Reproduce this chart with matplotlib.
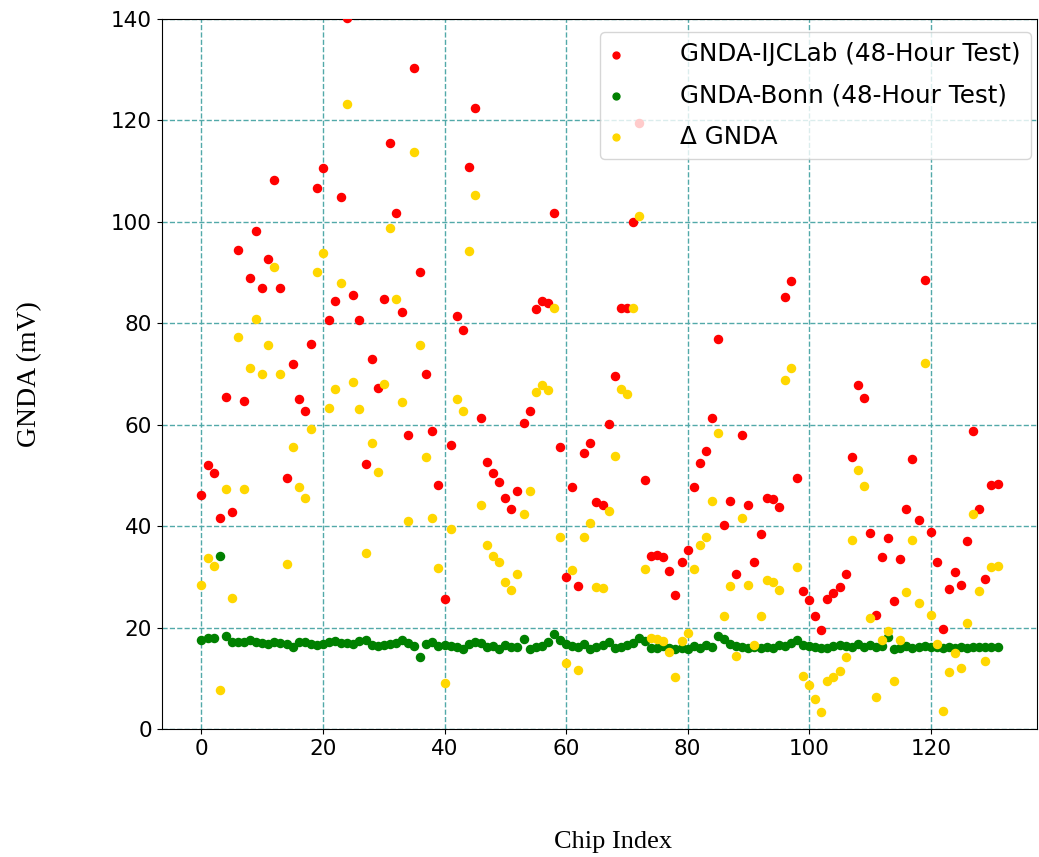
import matplotlib
matplotlib.use("Agg")
import matplotlib.pyplot as plt
import numpy as np

chip_index = list(range(132))

gnda_ijclab = [
    46.2, 52.0, 50.5, 41.7, 65.4, 42.9, 94.5, 64.6, 88.9, 98.1,
    87.0, 92.7, 108.2, 87.0, 49.5, 71.9, 65.1, 62.8, 76.0, 106.7,
    110.5, 80.6, 84.4, 104.9, 140.1, 85.5, 80.6, 52.2, 73.0, 67.3,
    84.7, 115.5, 101.8, 82.2, 57.9, 130.3, 90.0, 70.0, 58.7, 48.1,
    25.7, 56.0, 81.4, 78.7, 110.8, 122.3, 61.3, 52.7, 50.6, 48.8,
    45.5, 43.5, 47.0, 60.3, 62.8, 82.8, 84.4, 84.0, 101.8, 55.6,
    30.1, 47.8, 28.3, 54.5, 56.4, 44.8, 44.3, 60.2, 69.7, 83.0,
    83.0, 100.0, 119.5, 49.2, 34.2, 34.4, 34.0, 31.3, 26.5, 33.0,
    35.4, 47.8, 52.5, 54.9, 61.3, 76.8, 40.3, 45.0, 30.7, 58.0,
    44.2, 32.9, 38.5, 45.6, 45.3, 43.9, 85.2, 88.3, 49.6, 27.2,
    25.4, 22.3, 19.6, 25.6, 26.8, 28.1, 30.7, 53.7, 67.8, 65.2,
    38.6, 22.6, 34.0, 37.7, 25.3, 33.6, 43.5, 53.3, 41.2, 88.6,
    38.8, 33.0, 19.8, 27.6, 31.0, 28.5, 37.1, 58.7, 43.4, 29.7,
    48.2, 48.4,
]

gnda_bonn = [
    17.7, 18.0, 18.1, 34.1, 18.5, 17.3, 17.2, 17.3, 17.6, 17.2,
    17.0, 16.9, 17.2, 17.0, 16.9, 16.2, 17.2, 17.3, 16.9, 16.6,
    16.8, 17.2, 17.4, 17.0, 17.1, 16.9, 17.4, 17.6, 16.7, 16.5,
    16.6, 16.9, 17.0, 17.6, 17.0, 16.4, 14.3, 16.8, 17.2, 16.5,
    16.6, 16.5, 16.2, 15.9, 16.8, 17.2, 17.1, 16.3, 16.5, 15.8,
    16.6, 16.3, 16.3, 17.9, 15.9, 16.3, 16.5, 17.2, 18.8, 17.6,
    16.9, 16.5, 16.2, 16.8, 15.8, 16.3, 16.6, 17.2, 16.0, 16.2,
    16.6, 17.1, 18.0, 17.4, 16.0, 16.1, 16.5, 16.0, 15.9, 16.1,
    15.8, 16.4, 16.1, 16.7, 16.3, 18.4, 17.8, 16.8, 16.4, 16.2,
    16.0, 16.2, 16.0, 16.3, 16.0, 16.6, 16.5, 17.0, 17.6, 16.7,
    16.5, 16.3, 16.0, 16.0, 16.5, 16.6, 16.4, 16.3, 16.8, 16.3,
    16.6, 16.2, 16.4, 18.3, 15.8, 16.0, 16.5, 16.0, 16.2, 16.4,
    16.3, 16.2, 16.1, 16.2, 16.0, 16.3, 16.1, 16.3, 16.2, 16.3,
    16.2, 16.2,
]

delta_gnda = [
    28.5, 33.8, 32.2, 7.7, 47.3, 25.8, 77.3, 47.3, 71.2, 80.9,
    70.0, 75.8, 91.1, 70.0, 32.6, 55.7, 47.8, 45.5, 59.1, 90.1,
    93.8, 63.3, 67.0, 88.0, 123.1, 68.4, 63.1, 34.7, 56.5, 50.7,
    68.1, 98.7, 84.8, 64.5, 41.1, 113.7, 75.7, 53.6, 41.6, 31.8,
    9.2, 39.5, 65.1, 62.8, 94.2, 105.2, 44.3, 36.4, 34.1, 32.9,
    29.1, 27.4, 30.7, 42.4, 46.9, 66.4, 67.8, 66.9, 83.0, 37.9,
    13.1, 31.4, 11.8, 37.9, 40.6, 28.0, 27.9, 43.0, 53.8, 67.1,
    66.1, 82.9, 101.2, 31.6, 18.0, 17.8, 17.5, 15.3, 10.4, 17.5,
    19.0, 31.6, 36.4, 38.0, 44.9, 58.4, 22.4, 28.3, 14.4, 41.6,
    28.4, 16.6, 22.4, 29.4, 29.1, 27.4, 68.8, 71.2, 32.0, 10.5,
    8.8, 6.0, 3.5, 9.6, 10.4, 11.5, 14.3, 37.4, 51.1, 48.0,
    22.0, 6.4, 17.6, 19.4, 9.5, 17.6, 27.0, 37.3, 25.0, 72.2,
    22.5, 16.8, 3.7, 11.4, 15.0, 12.2, 21.0, 42.5, 27.2, 13.4,
    32.0, 32.2,
]

series_labels = ["GNDA-IJCLab (48-Hour Test)", "GNDA-Bonn (48-Hour Test)", "\u0394 GNDA"]
x_ticks = [0, 20, 40, 60, 80, 100, 120]
y_ticks = [0, 20, 40, 60, 80, 100, 120, 140]

fig = plt.figure(figsize=(10.39, 8.57), dpi=100)
ax = fig.add_axes([0.1556, 0.1488, 0.8428, 0.8296])

ax.scatter(chip_index, gnda_ijclab, s=34, color="red", label=series_labels[0], zorder=3)
ax.scatter(chip_index, gnda_bonn, s=34, color="green", label=series_labels[1], zorder=3)
ax.scatter(chip_index, delta_gnda, s=34, color="gold", label=series_labels[2], zorder=3)

ax.set_ylim(0, 140)
ax.set_xticks(x_ticks)
ax.set_yticks(y_ticks)
ax.tick_params(labelsize=15.5)
ax.grid(True, linestyle="--", color="#52a9a9", linewidth=1.0)
ax.set_axisbelow(True)

leg = ax.legend(loc="upper right", bbox_to_anchor=(0.9931, 0.981), borderaxespad=0,
                fontsize=17.7, handlelength=0.5, handletextpad=2.35,
                labelspacing=0.7, borderpad=0.42, markerscale=0.85)

ax.set_ylabel("GNDA (mV)", fontsize=20, family="Liberation Serif", labelpad=0)
ax.yaxis.set_label_coords(-0.136, 0.5)
fig.text(0.59, 0.0175, "Chip Index", va="center", ha="center",
         fontsize=19, family="Liberation Serif")

fig.savefig("out.png", dpi=100)
